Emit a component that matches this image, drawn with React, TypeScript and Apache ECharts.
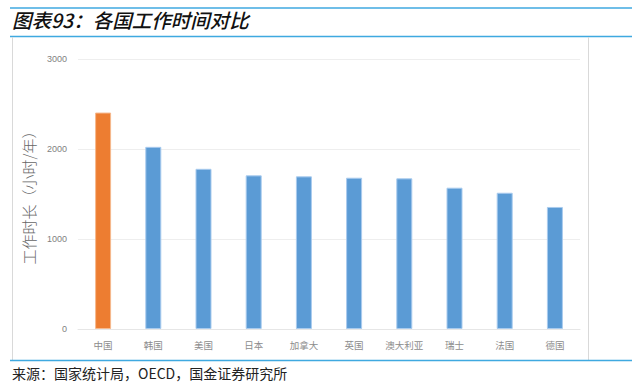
import React, { useEffect, useRef } from "react";
import * as echarts from "echarts";

const categories = ["中国", "韩国", "美国", "日本", "加拿大", "英国", "澳大利亚", "瑞士", "法国", "德国"];
const hours = [2405, 2024, 1780, 1707, 1696, 1681, 1674, 1570, 1514, 1356];
const yTicks = [0, 1000, 2000, 3000];
const highlightIndex = 0;

const title = "图表93：各国工作时间对比";
const source = "来源：国家统计局，OECD，国金证券研究所";
const yName = "工作时长（小时/年）";

export default function App() {
  const ref = useRef<HTMLDivElement>(null);
  useEffect(() => {
    document.body.style.margin = "0";
    const chart = echarts.init(ref.current!, null, { renderer: "svg" });
    const blue = "#5B9BD5";
    const orange = "#ED7D31";
    chart.setOption({
      animation: false,
      backgroundColor: "#ffffff",
      grid: { left: 78, right: 52, top: 59, bottom: 63, containLabel: false },
      xAxis: {
        type: "category",
        data: categories,
        axisLine: { show: true, lineStyle: { color: "#e6e6e6", width: 1 } },
        axisTick: { show: false },
        axisLabel: {
          interval: 0,
          color: "#8c8c8c",
          fontSize: 9.5,
          fontFamily: "Noto Sans CJK SC",
          margin: 11,
        },
      },
      yAxis: {
        type: "value",
        min: yTicks[0],
        max: yTicks[yTicks.length - 1],
        interval: 1000,
        name: yName,
        nameLocation: "middle",
        nameGap: 33,
        nameRotate: 90,
        nameTextStyle: { color: "#666666", fontSize: 15, fontFamily: "Noto Sans CJK SC", fontWeight: 300 },
        axisLine: { show: false },
        axisTick: { show: false },
        axisLabel: {
          color: "#7f7f7f",
          fontSize: 9,
          margin: 11,
          fontFamily: "Liberation Sans",
          formatter: (v: number) => String(v),
        },
        splitLine: { lineStyle: { color: "#eeeeee", width: 1 } },
      },
      series: [
        {
          type: "bar",
          data: hours.map((v, i) => ({
            value: v,
            itemStyle: {
              color: i === highlightIndex ? orange : blue,
              borderColor: i === highlightIndex ? "#f6b98e" : "#a9cbee",
              borderWidth: 1,
            },
          })),
          barWidth: 16,
        },
      ],
      graphic: [
        { type: "line", shape: { x1: 10, y1: 8, x2: 632, y2: 8 }, style: { stroke: "#3fa9e0", lineWidth: 1.5 } },
        {
          type: "text",
          left: 12,
          top: 10,
          style: {
            text: title,
            fill: "#111111",
            font: "italic 500 19.5px 'Noto Sans CJK SC'",
          },
        },
        { type: "line", shape: { x1: 10, y1: 36.5, x2: 632, y2: 36.5 }, style: { stroke: "#3fa9e0", lineWidth: 1.5 } },
        { type: "line", shape: { x1: 12.5, y1: 37, x2: 12.5, y2: 360 }, style: { stroke: "#d9d9d9", lineWidth: 1 } },
        { type: "line", shape: { x1: 588.5, y1: 37, x2: 588.5, y2: 360 }, style: { stroke: "#d9d9d9", lineWidth: 1 } },
        { type: "line", shape: { x1: 10, y1: 360.5, x2: 632, y2: 360.5 }, style: { stroke: "#3fa9e0", lineWidth: 1.5 } },
        {
          type: "text",
          left: 12,
          top: 366,
          style: {
            text: source,
            fill: "#222222",
            font: "14px 'Noto Sans CJK SC'",
          },
        },
      ],
    });
    return () => chart.dispose();
  }, []);
  return <div ref={ref} style={{ width: 632, height: 392 }} />;
}
